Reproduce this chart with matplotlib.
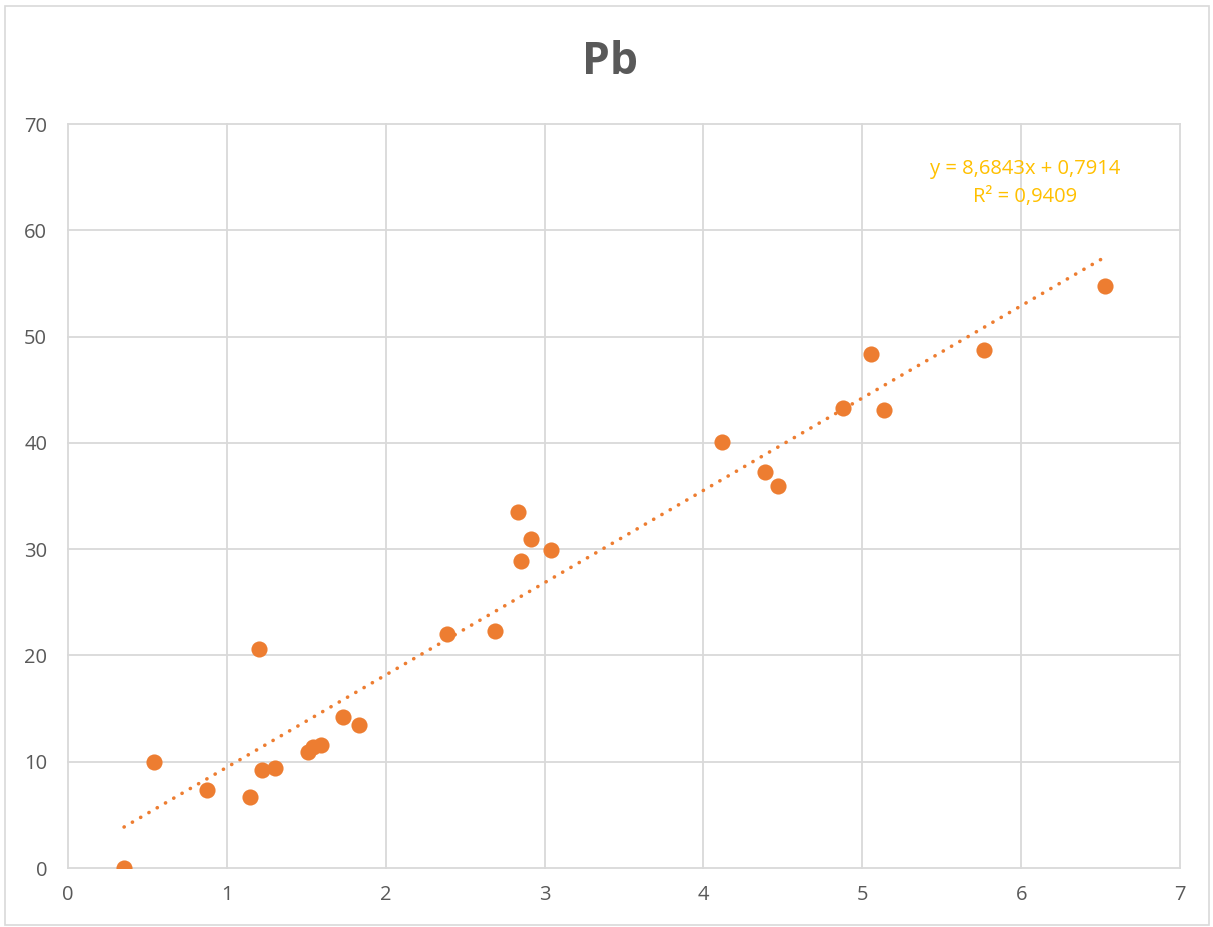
import matplotlib
matplotlib.use("Agg")
import matplotlib.pyplot as plt
from matplotlib.patches import Rectangle
import numpy as np

x_vals = [0.353, 0.541, 0.875, 1.146, 1.202, 1.221, 1.303, 1.511, 1.544, 1.593,
          1.733, 1.832, 2.386, 2.688, 2.833, 2.852, 2.914, 3.040, 4.117, 4.387,
          4.469, 4.878, 5.055, 5.137, 5.766, 6.528]
y_vals = [0.0, 9.97, 7.34, 6.68, 20.6, 9.22, 9.41, 10.94, 11.41, 11.54,
          14.23, 13.45, 22.0, 22.3, 33.5, 28.9, 31.0, 29.9, 40.1, 37.25,
          35.9, 43.3, 48.35, 43.1, 48.7, 54.75]
slope = 8.6843
intercept = 0.7914
r2 = 0.9409
title = "Pb"
x_ticks = [0, 1, 2, 3, 4, 5, 6, 7]
y_ticks = [0, 10, 20, 30, 40, 50, 60, 70]

plt.rcParams['font.family'] = ['Open Sans', 'DejaVu Sans']

fig = plt.figure(figsize=(12.13, 9.27), dpi=100)
ax = fig.add_axes([68/1213, 1-868/927, (1180-68)/1213, (868-124)/927])

fig.patches.append(Rectangle((5/1213, 1-925/927), 1204/1213, 919/927,
                             transform=fig.transFigure, fill=False,
                             edgecolor='#d9d9d9', linewidth=1.2))

ax.set_xlim(0, 7)
ax.set_ylim(0, 70)
ax.set_xticks(x_ticks)
ax.set_yticks(y_ticks)
ax.grid(True, color='#d9d9d9', linewidth=1.3)
ax.set_axisbelow(True)
for s in ax.spines.values():
    s.set_visible(False)
for gl in ax.get_xgridlines() + ax.get_ygridlines():
    gl.set_clip_on(False)
ax.tick_params(length=0, labelsize=14.5, colors='#595959')
ax.tick_params(axis='y', pad=15)
ax.tick_params(axis='x', pad=12)

ax.scatter(x_vals, y_vals, s=135, color='#ED7D31', zorder=3, linewidths=0)

xs = np.array([min(x_vals), max(x_vals)])
ax.plot(xs, slope*xs + intercept, color='#ED7D31', linestyle=(0, (0.05, 2.6)),
        linewidth=2.6, zorder=2, dash_capstyle='round', solid_capstyle='round')

ax.text(6.024, 65.76, f"y = {slope:.4f}x + {intercept:.4f}".replace('.', ','),
        ha='center', va='center', color='#FFC000', fontsize=14.5)
ax.text(6.024, 63.1, f"R² = {r2:.4f}".replace('.', ','),
        ha='center', va='center', color='#FFC000', fontsize=14.5)

fig.text(610/1213, 1-62/927, title, ha='center', va='center', fontsize=32,
         fontweight='bold', color='#595959')

fig.savefig("out.png", dpi=100)
